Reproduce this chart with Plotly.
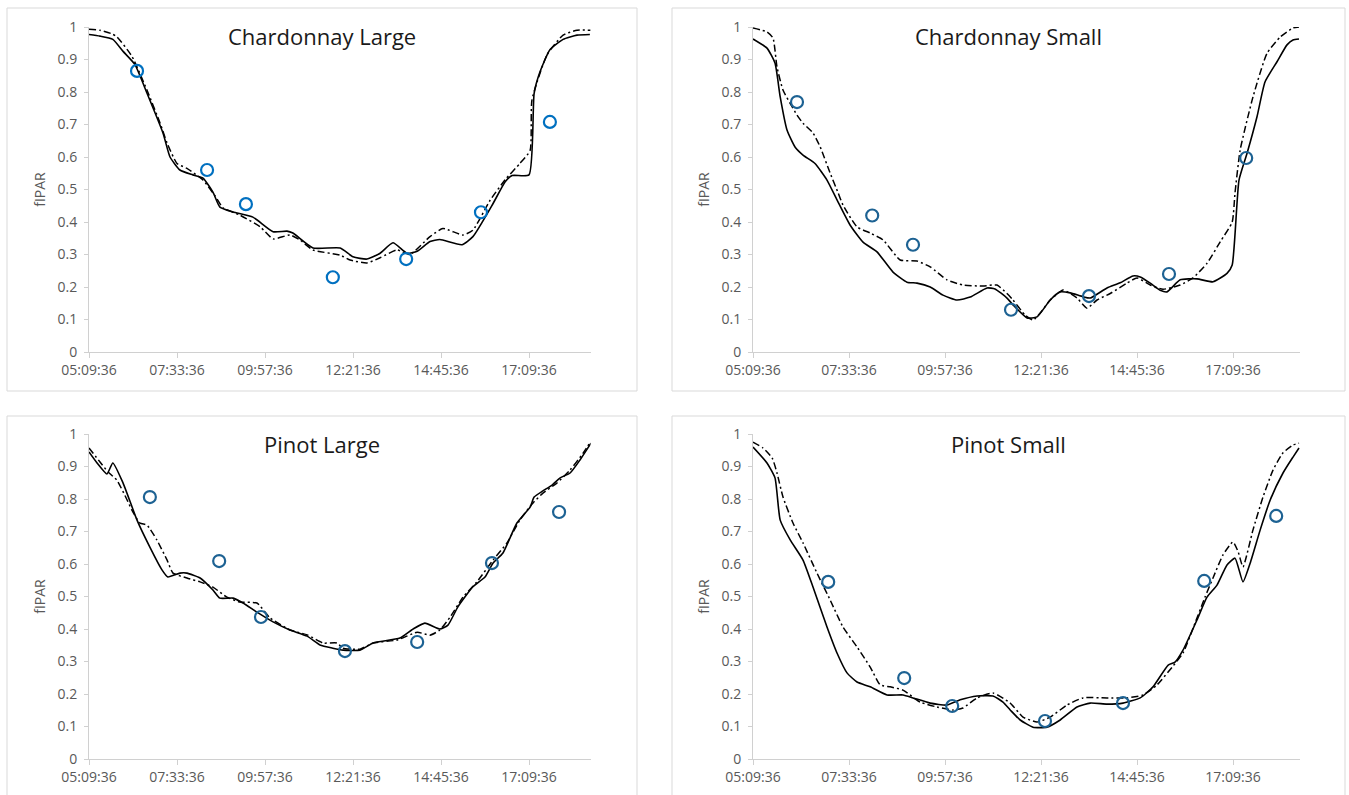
import plotly.graph_objects as go
import pandas as pd

# ---------------- data (times in decimal hours, values fIPAR) ----------------
x_tick_labels = ["05:09:36", "07:33:36", "09:57:36", "12:21:36", "14:45:36", "17:09:36"]
y_tick_vals = [0, 0.1, 0.2, 0.3, 0.4, 0.5, 0.6, 0.7, 0.8, 0.9, 1.0]
y_tick_labels = ["0", "0.1", "0.2", "0.3", "0.4", "0.5", "0.6", "0.7", "0.8", "0.9", "1"]
panel_titles = ["Chardonnay Large", "Chardonnay Small", "Pinot Large", "Pinot Small"]

# Chardonnay Large
cl_solid_t = [5.16, 5.46, 5.81, 6.09, 6.41, 6.74, 7.18, 7.37, 7.64, 7.99, 8.27, 8.54, 8.73, 9.09, 9.63,
              10.18, 10.56, 10.72, 11.27, 12.01, 12.36, 12.74, 13.10, 13.45, 13.83, 14.11, 14.46, 14.73,
              15.33, 15.63, 16.18, 16.51, 16.70, 17.16, 17.30, 17.46, 17.73, 18.09, 18.47, 18.82]
cl_solid_v = [0.977, 0.972, 0.962, 0.925, 0.885, 0.797, 0.673, 0.600, 0.560, 0.545, 0.535, 0.492, 0.446,
              0.431, 0.415, 0.370, 0.372, 0.366, 0.320, 0.320, 0.293, 0.286, 0.304, 0.336, 0.304, 0.310,
              0.340, 0.346, 0.330, 0.355, 0.457, 0.524, 0.543, 0.545, 0.796, 0.862, 0.930, 0.962, 0.975, 0.977]
cl_dash_t = [5.16, 5.46, 5.76, 5.92, 6.33, 6.74, 7.10, 7.29, 7.56, 7.83, 8.27, 8.60, 8.82, 9.28, 9.83,
             10.18, 10.64, 10.91, 11.27, 12.01, 12.28, 12.74, 13.10, 13.56, 13.91, 14.46, 14.81, 15.36,
             15.63, 16.10, 16.51, 16.91, 17.19, 17.24, 17.65, 18.09, 18.47, 18.84]
cl_dash_v = [0.993, 0.990, 0.980, 0.970, 0.910, 0.806, 0.704, 0.643, 0.580, 0.565, 0.529, 0.480, 0.443,
             0.421, 0.385, 0.348, 0.360, 0.345, 0.314, 0.298, 0.283, 0.274, 0.290, 0.314, 0.300, 0.355,
             0.380, 0.360, 0.375, 0.467, 0.530, 0.580, 0.620, 0.775, 0.914, 0.975, 0.990, 0.990]
cl_obs_t = [6.47, 8.38, 9.44, 11.81, 13.81, 15.85, 17.73]
cl_obs_v = [0.865, 0.560, 0.455, 0.230, 0.286, 0.430, 0.708]

# Chardonnay Small
cs_solid_t = [5.16, 5.51, 5.71, 5.84, 6.01, 6.21, 6.41, 6.71, 7.01, 7.26, 7.59, 7.91, 8.26, 8.66, 9.01,
              9.26, 9.59, 9.91, 10.26, 10.59, 11.01, 11.21, 11.51, 11.66, 12.01, 12.26, 12.59, 12.84,
              13.09, 13.41, 13.59, 14.01, 14.34, 14.66, 14.84, 15.09, 15.34, 15.51, 15.84, 16.26, 16.66,
              17.01, 17.14, 17.31, 17.51, 17.76, 17.96, 18.26, 18.51, 18.66, 18.81]
cs_solid_v = [0.963, 0.935, 0.889, 0.785, 0.683, 0.631, 0.606, 0.580, 0.529, 0.468, 0.390, 0.338, 0.308,
              0.246, 0.215, 0.212, 0.200, 0.175, 0.160, 0.169, 0.197, 0.194, 0.166, 0.145, 0.105, 0.108,
              0.160, 0.185, 0.182, 0.170, 0.166, 0.197, 0.213, 0.234, 0.231, 0.212, 0.190, 0.185, 0.222,
              0.225, 0.216, 0.242, 0.268, 0.529, 0.611, 0.724, 0.831, 0.893, 0.945, 0.960, 0.963]
cs_dash_t = [5.16, 5.51, 5.66, 5.76, 5.91, 6.14, 6.26, 6.41, 6.66, 6.84, 7.09, 7.29, 7.41, 7.76, 8.09,
             8.41, 8.84, 9.26, 9.59, 10.01, 10.41, 10.91, 11.26, 11.51, 11.66, 11.96, 12.16, 12.34, 12.59,
             12.91, 13.26, 13.51, 13.76, 14.09, 14.51, 14.76, 15.09, 15.41, 15.84, 16.16, 16.51, 16.84,
             17.14, 17.21, 17.34, 17.66, 18.01, 18.34, 18.66, 18.81]
cs_dash_v = [0.997, 0.985, 0.966, 0.877, 0.806, 0.754, 0.729, 0.704, 0.674, 0.631, 0.550, 0.489, 0.452,
             0.385, 0.366, 0.345, 0.283, 0.280, 0.262, 0.222, 0.206, 0.203, 0.206, 0.180, 0.160, 0.114,
             0.098, 0.120, 0.160, 0.191, 0.166, 0.135, 0.160, 0.180, 0.212, 0.228, 0.206, 0.193, 0.206,
             0.228, 0.273, 0.339, 0.400, 0.489, 0.622, 0.785, 0.919, 0.969, 0.997, 1.000]
cs_obs_t = [6.26, 8.14, 9.16, 11.61, 13.56, 15.56, 17.49]
cs_obs_v = [0.769, 0.420, 0.330, 0.130, 0.172, 0.240, 0.597]

# Pinot Large
pl_solid_t = [5.16, 5.38, 5.65, 5.81, 6.09, 6.47, 6.82, 7.15, 7.31, 7.64, 7.83, 8.19, 8.54, 8.73, 9.09,
              9.36, 9.74, 10.18, 10.64, 11.11, 11.46, 11.81, 12.09, 12.55, 12.91, 13.64, 14.00, 14.32,
              14.73, 14.95, 15.22, 15.63, 15.96, 16.18, 16.45, 16.83, 17.19, 17.30, 17.54, 17.79, 18.01,
              18.28, 18.55, 18.85]
pl_solid_v = [0.945, 0.911, 0.877, 0.911, 0.849, 0.735, 0.652, 0.582, 0.560, 0.572, 0.572, 0.557, 0.520,
              0.495, 0.495, 0.480, 0.452, 0.422, 0.397, 0.378, 0.351, 0.341, 0.335, 0.335, 0.357, 0.372,
              0.400, 0.418, 0.400, 0.412, 0.468, 0.530, 0.560, 0.603, 0.634, 0.726, 0.775, 0.806, 0.825,
              0.843, 0.865, 0.880, 0.920, 0.972]
pl_dash_t = [5.16, 5.46, 5.68, 5.92, 6.20, 6.33, 6.55, 6.74, 7.01, 7.29, 7.45, 7.83, 8.19, 8.54, 8.92,
             9.28, 9.74, 10.10, 10.64, 11.11, 11.54, 11.92, 12.09, 12.55, 12.91, 13.56, 14.11, 14.46,
             14.73, 15.01, 15.36, 15.74, 16.18, 16.56, 16.91, 17.27, 17.54, 17.92, 18.28, 18.63, 18.85]
pl_dash_v = [0.957, 0.914, 0.883, 0.858, 0.797, 0.766, 0.726, 0.720, 0.674, 0.612, 0.572, 0.557, 0.545,
             0.529, 0.498, 0.483, 0.480, 0.434, 0.397, 0.382, 0.357, 0.357, 0.341, 0.338, 0.357, 0.366,
             0.390, 0.381, 0.397, 0.437, 0.498, 0.545, 0.612, 0.665, 0.735, 0.788, 0.818, 0.849, 0.889,
             0.940, 0.978]
pl_obs_t = [6.82, 8.71, 9.85, 12.14, 14.11, 16.15, 17.98]
pl_obs_v = [0.806, 0.609, 0.437, 0.332, 0.360, 0.603, 0.760]

# Pinot Small
ps_solid_t = [5.16, 5.51, 5.71, 5.84, 6.09, 6.41, 6.66, 7.01, 7.26, 7.51, 7.76, 8.09, 8.51, 8.91, 9.16,
              9.59, 10.01, 10.34, 10.76, 11.16, 11.41, 11.59, 11.84, 12.16, 12.51, 12.84, 13.26, 13.59,
              14.01, 14.41, 14.84, 15.16, 15.54, 15.71, 15.91, 16.26, 16.51, 16.76, 17.01, 17.21, 17.41,
              17.59, 17.84, 18.09, 18.41, 18.66, 18.81]
ps_solid_v = [0.960, 0.911, 0.865, 0.735, 0.674, 0.612, 0.529, 0.406, 0.326, 0.265, 0.237, 0.222, 0.197,
              0.197, 0.188, 0.172, 0.166, 0.182, 0.194, 0.194, 0.175, 0.151, 0.120, 0.098, 0.098, 0.120,
              0.160, 0.172, 0.169, 0.172, 0.188, 0.222, 0.289, 0.298, 0.335, 0.428, 0.498, 0.535, 0.597,
              0.618, 0.545, 0.603, 0.705, 0.797, 0.880, 0.929, 0.957]
ps_dash_t = [5.16, 5.41, 5.64, 5.76, 5.91, 6.16, 6.41, 6.76, 7.09, 7.41, 7.76, 8.09, 8.34, 8.59, 8.91,
             9.34, 9.76, 10.16, 10.41, 10.76, 11.16, 11.59, 11.91, 12.26, 12.59, 13.01, 13.41, 14.01,
             14.51, 14.91, 15.26, 15.64, 15.91, 16.21, 16.46, 16.66, 16.91, 17.16, 17.29, 17.41, 17.66,
             17.91, 18.16, 18.41, 18.66, 18.81]
ps_dash_v = [0.975, 0.957, 0.926, 0.880, 0.806, 0.726, 0.665, 0.572, 0.489, 0.406, 0.345, 0.283, 0.228,
             0.222, 0.212, 0.175, 0.160, 0.151, 0.157, 0.188, 0.203, 0.172, 0.129, 0.114, 0.129, 0.166,
             0.188, 0.188, 0.188, 0.197, 0.228, 0.283, 0.326, 0.418, 0.498, 0.557, 0.628, 0.668, 0.637,
             0.591, 0.705, 0.806, 0.889, 0.942, 0.966, 0.972]
ps_obs_t = [7.04, 8.94, 10.14, 12.46, 14.41, 16.44, 18.24]
ps_obs_v = [0.545, 0.249, 0.163, 0.117, 0.172, 0.548, 0.748]

# ---------------- helpers ----------------
BASE = pd.Timestamp("2024-01-01")


def to_dt(hours):
    return [BASE + pd.Timedelta(hours=h) for h in hours]


def lab_dt(labels):
    return [BASE + pd.Timedelta(lab) for lab in labels]


W, H = 1349, 795


def fx(p):
    return p / W


def fy(p):
    return 1 - p / H


series = [
    (cl_solid_t, cl_solid_v, cl_dash_t, cl_dash_v, cl_obs_t, cl_obs_v),
    (cs_solid_t, cs_solid_v, cs_dash_t, cs_dash_v, cs_obs_t, cs_obs_v),
    (pl_solid_t, pl_solid_v, pl_dash_t, pl_dash_v, pl_obs_t, pl_obs_v),
    (ps_solid_t, ps_solid_v, ps_dash_t, ps_dash_v, ps_obs_t, ps_obs_v),
]
marker_colors = ["#0070C0", "#1D6293", "#1D6293", "#1D6293"]

# layout geometry (pixels)
plot_x = [(89, 590.6), (753, 1300.2), (89, 590.6), (753, 1300.2)]
plot_y = [(27, 352), (27, 352), (434, 759), (434, 759)]
boxes = [(7, 8, 637, 391), (672, 8, 1345, 391), (7, 416, 637, 800), (672, 416, 1345, 800)]

AXIS_COL = "#d0d0d0"
TICK_FONT = dict(family="Open Sans", size=14, color="#595959")
x_range = [BASE + pd.Timedelta("05:09:36"), BASE + pd.Timedelta("18:50:24")]

fig = go.Figure()
layout = dict(
    width=W, height=H, margin=dict(l=0, r=0, t=0, b=0, autoexpand=False),
    paper_bgcolor="white", plot_bgcolor="white", showlegend=False,
    shapes=[], annotations=[],
)

for i in range(4):
    s = "" if i == 0 else str(i + 1)
    st, sv, dt_, dv, ot, ov = series[i]
    fig.add_trace(go.Scatter(x=to_dt(st), y=sv, mode="lines", xaxis="x" + s, yaxis="y" + s,
                             line=dict(color="black", width=1.6, shape="spline", smoothing=0.5)))
    fig.add_trace(go.Scatter(x=to_dt(dt_), y=dv, mode="lines", xaxis="x" + s, yaxis="y" + s,
                             line=dict(color="black", width=1.5, dash="7px,3px,2px,3px",
                                       shape="spline", smoothing=0.5)))
    fig.add_trace(go.Scatter(x=to_dt(ot), y=ov, mode="markers", xaxis="x" + s, yaxis="y" + s,
                             marker=dict(symbol="circle-open", size=12, color=marker_colors[i],
                                         line=dict(width=2.2, color=marker_colors[i]))))
    x0, x1 = plot_x[i]
    y0, y1 = plot_y[i]
    layout["xaxis" + s] = dict(
        domain=[fx(x0), fx(x1)], anchor="y" + s, type="date", range=x_range,
        tickvals=lab_dt(x_tick_labels), ticktext=x_tick_labels, automargin=False,
        showline=True, linecolor=AXIS_COL, linewidth=1, ticks="outside", ticklen=5,
        tickcolor=AXIS_COL, showgrid=False, zeroline=False, tickfont=TICK_FONT,
    )
    layout["yaxis" + s] = dict(
        domain=[fy(y1), fy(y0)], anchor="x" + s, range=[0, 1], automargin=False,
        tickvals=y_tick_vals, ticktext=y_tick_labels,
        showline=True, linecolor=AXIS_COL, linewidth=1, ticks="outside", ticklen=4,
        tickcolor=AXIS_COL, showgrid=False, zeroline=False, tickfont=TICK_FONT,
        ticklabelstandoff=4,
        title=dict(text="fIPAR", font=dict(family="Open Sans", size=14, color="#595959"), standoff=8),
    )
    bx0, by0, bx1, by1 = boxes[i]
    layout["shapes"].append(dict(type="rect", xref="paper", yref="paper",
                                 x0=fx(bx0), x1=fx(bx1), y0=fy(by1), y1=fy(by0),
                                 line=dict(color="#d9d9d9", width=1), fillcolor="rgba(0,0,0,0)",
                                 layer="below"))
    layout["annotations"].append(dict(text=panel_titles[i], xref="paper", yref="paper",
                                      x=fx((bx0 + bx1) / 2), y=fy(by0 + 28), xanchor="center",
                                      yanchor="middle", showarrow=False,
                                      font=dict(family="Open Sans", size=22, color="#1a1a1a")))

fig.update_layout(**layout)
fig.write_html("out.html", config={"displayModeBar": False},
               post_script="document.body.style.margin='0';document.body.style.overflow='hidden';")
